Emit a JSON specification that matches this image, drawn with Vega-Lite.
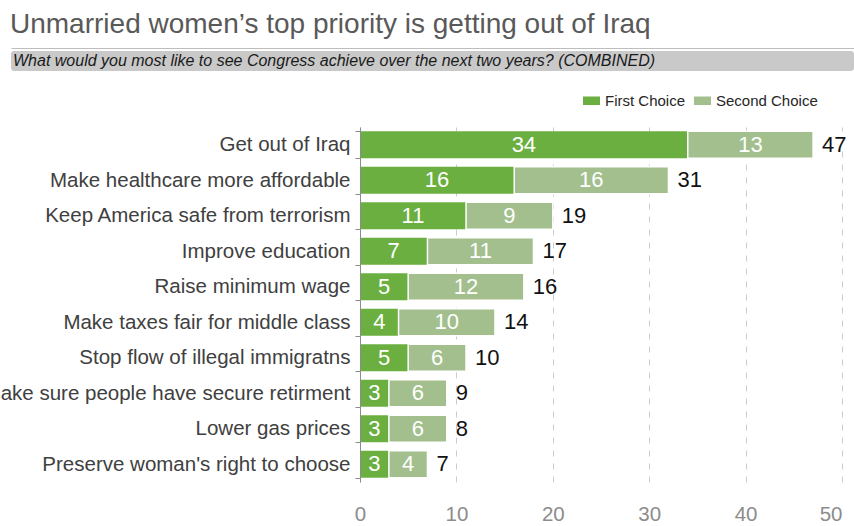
{
  "$schema": "https://vega.github.io/schema/vega-lite/v6.json",
  "autosize": "none",
  "padding": {"left": 11, "top": 51, "right": 843, "bottom": 475},
  "background": "white",
  "config": {"font": "Liberation Sans", "view": {"stroke": null}},
  "title": {
    "text": "Unmarried women’s top priority is getting out of Iraq",
    "anchor": "start",
    "frame": "group",
    "font": "Liberation Sans",
    "fontSize": 28,
    "fontWeight": "normal",
    "color": "#595959",
    "offset": 9,
    "dx": -1
  },
  "spacing": 56,
  "bounds": "flush",
  "vconcat": [
    {
      "width": 843,
      "height": 20,
      "view": {"fill": "#c9c9c9", "stroke": null, "cornerRadius": 3},
      "data": {"values": [{"question": "What would you most like to see Congress achieve over the next two years? (COMBINED)", "pos": 0}]},
      "mark": {"type": "text", "align": "left", "baseline": "middle", "dx": 2, "font": "Liberation Sans", "fontStyle": "italic", "fontSize": 16, "color": "#1a1a1a"},
      "encoding": {
        "x": {"field": "pos", "type": "quantitative", "scale": {"domain": [0, 1]},
          "axis": {"orient": "top", "labels": false, "ticks": false, "grid": false, "title": null, "domainColor": "#bdbdbd", "domainWidth": 1, "offset": 3}},
        "text": {"field": "question"}
      }
    },
    {
      "width": 831,
      "height": 355,
      "data": {"values": [
        {"item": "Get out of Iraq", "choice": "First Choice", "value": 34, "total": 47},
        {"item": "Get out of Iraq", "choice": "Second Choice", "value": 13, "total": 47},
        {"item": "Make healthcare more affordable", "choice": "First Choice", "value": 16, "total": 31},
        {"item": "Make healthcare more affordable", "choice": "Second Choice", "value": 16, "total": 31},
        {"item": "Keep America safe from terrorism", "choice": "First Choice", "value": 11, "total": 19},
        {"item": "Keep America safe from terrorism", "choice": "Second Choice", "value": 9, "total": 19},
        {"item": "Improve education", "choice": "First Choice", "value": 7, "total": 17},
        {"item": "Improve education", "choice": "Second Choice", "value": 11, "total": 17},
        {"item": "Raise minimum wage", "choice": "First Choice", "value": 5, "total": 16},
        {"item": "Raise minimum wage", "choice": "Second Choice", "value": 12, "total": 16},
        {"item": "Make taxes fair for middle class", "choice": "First Choice", "value": 4, "total": 14},
        {"item": "Make taxes fair for middle class", "choice": "Second Choice", "value": 10, "total": 14},
        {"item": "Stop flow of illegal immigratns", "choice": "First Choice", "value": 5, "total": 10},
        {"item": "Stop flow of illegal immigratns", "choice": "Second Choice", "value": 6, "total": 10},
        {"item": "Make sure people have secure retirment", "choice": "First Choice", "value": 3, "total": 9},
        {"item": "Make sure people have secure retirment", "choice": "Second Choice", "value": 6, "total": 9},
        {"item": "Lower gas prices", "choice": "First Choice", "value": 3, "total": 8},
        {"item": "Lower gas prices", "choice": "Second Choice", "value": 6, "total": 8},
        {"item": "Preserve woman's right to choose", "choice": "First Choice", "value": 3, "total": 7},
        {"item": "Preserve woman's right to choose", "choice": "Second Choice", "value": 4, "total": 7}
      ]},
      "encoding": {
        "y": {"field": "item", "type": "nominal", "sort": null,
          "scale": {"paddingInner": 0.24, "paddingOuter": 0.12},
          "axis": {"title": null, "orient": "left", "offset": -349, "tickBand": "extent", "tickSize": 5, "tickColor": "#8c8c8c", "domainColor": "#8c8c8c", "labelFontSize": 20.5, "labelColor": "#404040", "labelPadding": 5, "labelLimit": 600, "labelFont": "Liberation Sans", "zindex": 2}},
        "x": {"field": "value", "type": "quantitative", "stack": "zero",
          "scale": {"domain": [-36.2, 50], "nice": false, "zero": false},
          "axis": {"title": null, "values": [0, 10, 20, 30, 40, 50], "domain": false, "ticks": false, "tickSize": 0, "labelFontSize": 20.5, "labelColor": "#8c8c8c", "labelPadding": 22, "labelFont": "Liberation Sans", "grid": true, "gridColor": "#cccccc", "gridDash": [6, 7], "gridWidth": 1}},
        "order": {"field": "choice", "type": "ordinal", "sort": "ascending"},
        "detail": {"field": "choice", "type": "nominal"}
      },
      "layer": [
        {
          "mark": {"type": "bar", "strokeWidth": 1.5},
          "encoding": {
            "color": {"field": "choice", "type": "nominal",
              "scale": {"domain": ["First Choice", "Second Choice"], "range": ["#6aaf3f", "#a3bf8e"]},
              "legend": {"title": null, "orient": "none", "legendX": 572, "legendY": 41, "direction": "horizontal",
                "symbolType": "M-1,-0.5H1V0.5H-1Z", "symbolSize": 289, "symbolStrokeWidth": 0,
                "labelFontSize": 15, "labelColor": "#262626", "labelFont": "Liberation Sans", "labelOffset": 5, "columnPadding": 8, "padding": 0}},
            "stroke": {"condition": {"test": "datum.choice === 'Second Choice'", "value": "white"}, "value": "transparent"}
          }
        },
        {
          "mark": {"type": "text", "align": "center", "baseline": "middle", "fontSize": 22, "color": "white", "font": "Liberation Sans"},
          "encoding": {
            "x": {"field": "value", "type": "quantitative", "stack": "zero", "bandPosition": 0.5,
              "scale": {"domain": [-36.2, 50], "nice": false, "zero": false},
              "axis": {"title": null, "values": [0, 10, 20, 30, 40, 50], "domain": false, "ticks": false, "tickSize": 0, "labelFontSize": 20.5, "labelColor": "#8c8c8c", "labelPadding": 22, "labelFont": "Liberation Sans", "grid": true, "gridColor": "#cccccc", "gridDash": [6, 7], "gridWidth": 1}},
            "text": {"field": "value", "type": "quantitative"}
          }
        },
        {
          "mark": {"type": "text", "align": "left", "baseline": "middle", "fontSize": 22, "color": "#111111", "dx": 9, "font": "Liberation Sans"},
          "encoding": {
            "text": {"condition": {"test": "datum.choice === 'Second Choice'", "field": "total", "type": "quantitative"}, "value": ""}
          }
        }
      ]
    }
  ]
}
